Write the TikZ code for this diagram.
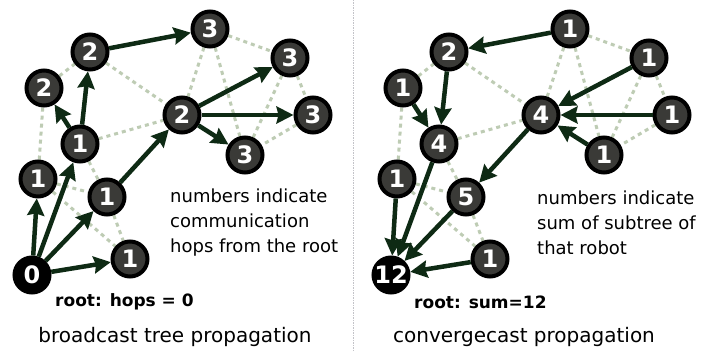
\documentclass[tikz,border=0pt]{standalone}
\usepackage{fontspec}
\setmainfont{DejaVu Sans}
\usetikzlibrary{arrows.meta,backgrounds}
\definecolor{arrowgreen}{RGB}{14,42,20}
\definecolor{dotgray}{RGB}{190,204,180}
\definecolor{nodefill}{RGB}{58,58,55}
\definecolor{sepgray}{RGB}{195,195,200}
\newcommand\D[1]{\makebox[0pt]{#1}}
\begin{document}
\begin{tikzpicture}[x=1pt,y=-1pt,
  bot/.style={circle,draw=black,line width=4pt,fill=nodefill,minimum size=35pt,inner sep=0pt,text=white,font=\fontsize{24}{24}\selectfont\bfseries},
  rootbot/.style={bot,fill=black},
  tree/.style={draw=arrowgreen,line width=4.5pt,-{Stealth[length=17pt,width=17pt,inset=2pt]}},
  link/.style={draw=dotgray,line width=3pt,dash pattern=on 4pt off 4pt},
  note/.style={anchor=west,font=\fontsize{18}{25}\selectfont,align=left,inner sep=0pt},
  rootnote/.style={anchor=west,font=\fontsize{17}{18}\selectfont\bfseries,inner sep=0pt},
  title/.style={font=\fontsize{20}{22}\selectfont,inner sep=0pt}]
\useasboundingbox (0,0) rectangle (707,352);

% ---------- left panel ----------
\node[rootbot] (L0)  at (32,275) {\D{0}};
\node[bot] (La1) at (38,179) {\D{1}};
\node[bot] (Lb1) at (80,144) {\D{1}};
\node[bot] (Lc1) at (107,197) {\D{1}};
\node[bot] (Ld1) at (130,259) {\D{1}};
\node[bot] (La2) at (44,88) {\D{2}};
\node[bot] (Lb2) at (90,52) {\D{2}};
\node[bot] (Lc2) at (182,115) {\D{2}};
\node[bot] (La3) at (210,29) {\D{3}};
\node[bot] (Lb3) at (290,58) {\D{3}};
\node[bot] (Lc3) at (313,115) {\D{3}};
\node[bot] (Ld3) at (245,155) {\D{3}};

\foreach \a/\b in {L0/La1,L0/Lb1,L0/Lc1,L0/Ld1,Lb1/La2,Lb1/Lb2,Lc1/Lc2,Lb2/La3,Lc2/Lb3,Lc2/Lc3,Lc2/Ld3}
  \draw[tree] (\a) -- (\b);

\node[note] (Lnote) at (170,223) {numbers indicate\\communication\\hops from the root};
\node[rootnote] (Lroot) at (55,302) {root: hops = 0};
\node[title] (Ltitle) at (175,337) {broadcast tree propagation};

% ---------- right panel ----------
\node[rootbot] (R0)  at (391,275) {\D{12}};
\node[bot] (Ra1) at (397,179) {\D{1}};
\node[bot] (Rb1) at (439,144) {\D{4}};
\node[bot] (Rc1) at (466,197) {\D{5}};
\node[bot] (Rd1) at (490,259) {\D{1}};
\node[bot] (Ra2) at (403,88) {\D{1}};
\node[bot] (Rb2) at (449,52) {\D{2}};
\node[bot] (Rc2) at (541,115) {\D{4}};
\node[bot] (Ra3) at (570,29) {\D{1}};
\node[bot] (Rb3) at (649,58) {\D{1}};
\node[bot] (Rc3) at (672,115) {\D{1}};
\node[bot] (Rd3) at (604,155) {\D{1}};

\foreach \a/\b in {R0/Ra1,R0/Rb1,R0/Rc1,R0/Rd1,Rb1/Ra2,Rb1/Rb2,Rc1/Rc2,Rb2/Ra3,Rc2/Rb3,Rc2/Rc3,Rc2/Rd3}
  \draw[tree] (\b) -- (\a);

\node[note] (Rnote) at (537,223) {numbers indicate\\sum of subtree of\\that robot};
\node[rootnote] (Rroot) at (414,302) {root: sum=12};
\node[title] (Rtitle) at (524,337) {convergecast propagation};

\begin{pgfonlayer}{background}
\fill[white] (0,0) rectangle (707,352);
\coordinate (septop) at (353,0);
\coordinate (sepbot) at (353,352);
\draw[sepgray,line width=1pt,dash pattern=on 1.5pt off 1pt] (septop) -- (sepbot);
\foreach \a/\b in {La1/La2,La2/Lb2,Lb2/Lc2,Lb1/Lc2,Lb1/Lc1,La1/Lc1,La1/Ld1,Lc1/Ld1,La3/Lb3,La3/Lc2,La3/Ld3,Lb3/Ld3,Lb3/Lc3,Lc3/Ld3}
  \draw[link] (\a) -- (\b);
\foreach \a/\b in {Ra1/Ra2,Ra2/Rb2,Rb2/Rc2,Rb1/Rc2,Rb1/Rc1,Ra1/Rc1,Ra1/Rd1,Rc1/Rd1,Ra3/Rb3,Ra3/Rc2,Ra3/Rd3,Rb3/Rd3,Rb3/Rc3,Rc3/Rd3}
  \draw[link] (\a) -- (\b);
\end{pgfonlayer}
\end{tikzpicture}
\end{document}
